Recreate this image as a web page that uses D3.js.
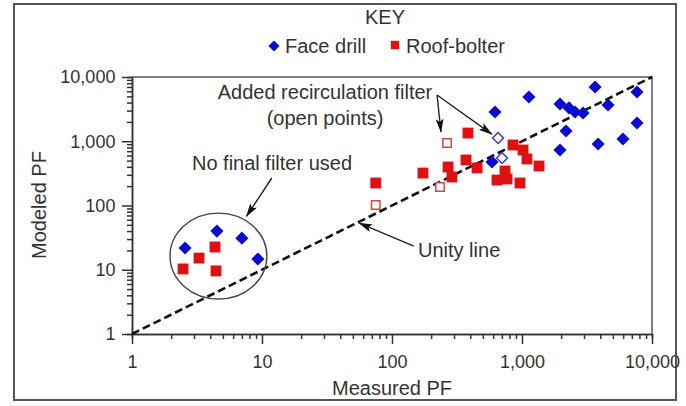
<!DOCTYPE html>
<meta charset="utf-8">
<style>
* { margin: 0; padding: 0; }
body { background: #fff; }
svg { display: block; font-family: "Liberation Sans", Arial, sans-serif; }
.frame { fill: none; stroke: #555; stroke-width: 2; }
.axis path, .axis line { stroke: #333; stroke-width: 1.5; }
.axis text { font-size: 18px; fill: #333; }
.title { font-size: 20px; fill: #333; }
.note { font-size: 20px; fill: #333; }
.face { fill: #0a0ad2; }
.bolt { fill: #e01010; }
.face-open { fill: #fff; stroke: #3a3ad0; stroke-width: 1.5; }
.bolt-open { fill: #fff; stroke: #d04848; stroke-width: 1.5; }
.unity { stroke: #111; stroke-width: 2.6; stroke-dasharray: 8,4; }
.arrow { stroke: #222; stroke-width: 1.4; fill: none; }
</style>
<body>
<script src="https://cdn.jsdelivr.net/npm/d3@7"></script>
<script>

// measured vs modeled PF
var faceX = [2.56, 4.5, 7.0, 9.3, 620, 588, 1130, 1960, 2300, 2560, 2950, 3650, 4590, 7670, 7670, 2180, 1960, 3850, 5980];
var faceY = [21.8, 40, 31, 14.7, 2850, 476, 4890, 3800, 3300, 2850, 2750, 6980, 3670, 5850, 1920, 1445, 731, 906, 1084];

var boltX = [2.47, 3.28, 4.35, 4.43, 75, 173, 270, 289, 371, 451, 384, 853, 1018, 1092, 1352, 740, 642, 767, 965];
var boltY = [10.3, 15.2, 22.6, 9.6, 224, 320, 397, 278, 511, 384, 1343, 875, 731, 530, 412, 344, 249, 259, 224];

// open points = added recirculation filter
var faceOpenX = [654, 702];
var faceOpenY = [1123, 549];
var boltOpenX = [75, 234, 265];
var boltOpenY = [102, 194, 940];

var tickVals = [1, 10, 100, 1000, 10000];

// annotation arrows, data coords [x1, y1, x2, y2]
var arrows = [
  [222, 5250, 238, 1400],
  [222, 5250, 585, 1290],
  [11.9, 268, 7.6, 68],
  [147, 23.4, 56, 53]
];
// circled group bounds (data coords)
var ringX = [1.96, 10.9];
var ringY = [3.5, 76];

var width = 686, height = 406;

var svg = d3.select("body").append("svg")
    .attr("width", width)
    .attr("height", height);

var x = d3.scaleLog().domain([1, 10000]).range([132, 652]);
var y = d3.scaleLog().domain([1, 10000]).range([334, 77]);

svg.append("rect").attr("class", "frame")
    .attr("x", 14).attr("y", 4).attr("width", 662).attr("height", 396);

var defs = svg.append("defs");
defs.append("marker")
    .attr("id", "head")
    .attr("markerUnits", "userSpaceOnUse")
    .attr("viewBox", "0 0 14 8")
    .attr("refX", 13).attr("refY", 4)
    .attr("markerWidth", 14).attr("markerHeight", 8)
    .attr("orient", "auto")
  .append("path")
    .attr("d", "M0,0L14,4L0,8L3,4Z")
    .attr("fill", "#111");

// minor ticks
var minor = [];
tickVals.slice(0, 4).forEach(function(d) {
  for (var k = 2; k < 10; k++) minor.push(d * k);
});

svg.append("g").attr("class", "axis")
    .attr("transform", "translate(0,334)")
    .call(d3.axisBottom(x).tickValues(minor).tickSize(5).tickFormat(""));
svg.append("g").attr("class", "axis")
    .attr("transform", "translate(132,0)")
    .call(d3.axisLeft(y).tickValues(minor).tickSize(5).tickFormat(""));

var xAxis = svg.append("g").attr("class", "axis")
    .attr("transform", "translate(0,334)")
    .call(d3.axisBottom(x).tickValues(tickVals).tickSize(10).tickSizeOuter(0).tickFormat(d3.format(",")));
xAxis.selectAll("text").attr("dy", "1.15em");

var yAxis = svg.append("g").attr("class", "axis")
    .attr("transform", "translate(132,0)")
    .call(d3.axisLeft(y).tickValues(tickVals).tickSize(10).tickSizeOuter(0).tickFormat(d3.format(",")));
yAxis.selectAll("text").attr("dx", "-0.2em");

// top and right border of plot
svg.append("path")
    .attr("d", "M" + x(1) + "," + y(10000) + "H" + x(10000) + "V" + y(1))
    .attr("fill", "none").attr("stroke", "#555").attr("stroke-width", 1.5);

// unity line
svg.append("line").attr("class", "unity")
    .attr("x1", x(1)).attr("y1", y(1))
    .attr("x2", x(10000)).attr("y2", y(10000));

// circled group
svg.append("ellipse")
    .attr("cx", (x(ringX[0]) + x(ringX[1])) / 2)
    .attr("cy", (y(ringY[0]) + y(ringY[1])) / 2)
    .attr("rx", (x(ringX[1]) - x(ringX[0])) / 2)
    .attr("ry", (y(ringY[0]) - y(ringY[1])) / 2)
    .attr("fill", "none").attr("stroke", "#444").attr("stroke-width", 1.4);

var diamond = d3.symbol().type(d3.symbolDiamond2);
var square = d3.symbol().type(d3.symbolSquare2);

function plot(xs, ys, sym, size, cls) {
  svg.append("g").selectAll("path")
    .data(xs.map(function(d, i) { return [d, ys[i]]; }))
    .join("path")
      .attr("class", cls)
      .attr("d", sym.size(size)())
      .attr("transform", function(d) { return "translate(" + x(d[0]) + "," + y(d[1]) + ")"; });
}

plot(boltX, boltY, square, 150, "bolt");
plot(faceX, faceY, diamond, 110, "face");
plot(boltOpenX, boltOpenY, square, 90, "bolt-open");
plot(faceOpenX, faceOpenY, diamond, 75, "face-open");

// arrows
svg.append("g").selectAll("line")
  .data(arrows)
  .join("line")
    .attr("class", "arrow")
    .attr("x1", function(d) { return x(d[0]); })
    .attr("y1", function(d) { return y(d[1]); })
    .attr("x2", function(d) { return x(d[2]); })
    .attr("y2", function(d) { return y(d[3]); })
    .attr("marker-end", "url(#head)");

// notes
svg.append("text").attr("class", "note").attr("x", 325).attr("y", 99)
    .attr("text-anchor", "middle").text("Added recirculation filter");
svg.append("text").attr("class", "note").attr("x", 325).attr("y", 125)
    .attr("text-anchor", "middle").text("(open points)");
svg.append("text").attr("class", "note").attr("x", 272).attr("y", 170)
    .attr("text-anchor", "middle").text("No final filter used");
svg.append("text").attr("class", "note").attr("x", 418).attr("y", 257)
    .text("Unity line");

// titles
svg.append("text").attr("class", "title").attr("x", 392).attr("y", 395)
    .attr("text-anchor", "middle").text("Measured PF");
svg.append("text").attr("class", "title")
    .attr("transform", "translate(46,205) rotate(-90)")
    .attr("text-anchor", "middle").text("Modeled PF");

// key
svg.append("text").attr("class", "title").attr("x", 385).attr("y", 24)
    .attr("text-anchor", "middle").text("KEY");
var key = svg.append("g").attr("transform", "translate(0,46)");
key.append("path").attr("class", "face").attr("d", diamond.size(80)())
    .attr("transform", "translate(274,0)");
key.append("text").attr("class", "title").attr("x", 285).attr("y", 7).text("Face drill");
key.append("path").attr("class", "bolt").attr("d", square.size(90)())
    .attr("transform", "translate(395,-1)");
key.append("text").attr("class", "title").attr("x", 406).attr("y", 7).text("Roof-bolter");

</script>
